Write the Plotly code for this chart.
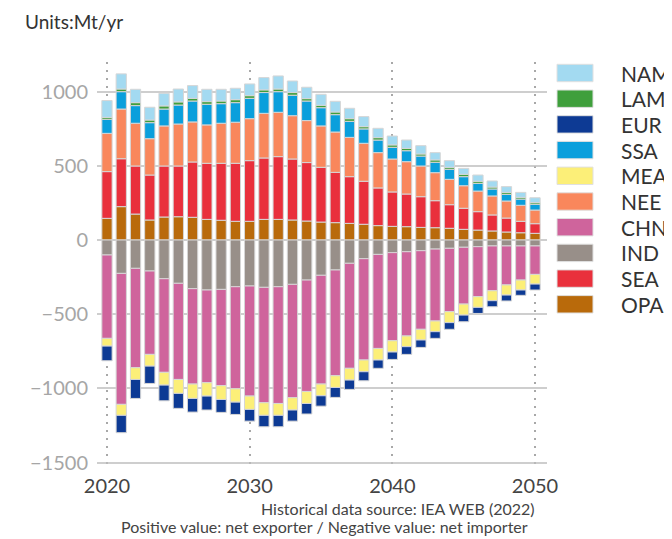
import plotly.graph_objects as go

years = list(range(2020, 2051))

OPA = [146, 225, 175, 135, 155, 157, 153, 139, 133, 126, 126, 139, 139, 135, 128, 121, 117, 112, 106, 97, 92, 90, 85, 83, 79, 72, 67, 61, 54, 49, 45]
SEA = [315, 323, 324, 303, 344, 342, 373, 378, 384, 391, 409, 414, 423, 411, 394, 369, 339, 315, 290, 254, 232, 220, 207, 182, 159, 142, 124, 108, 94, 77, 65]
NEE = [258, 335, 288, 245, 270, 283, 270, 259, 270, 277, 283, 301, 299, 292, 283, 279, 272, 265, 256, 238, 222, 218, 207, 189, 171, 152, 139, 128, 115, 108, 92]
SSA = [95, 117, 119, 108, 114, 128, 141, 139, 132, 132, 137, 140, 139, 138, 132, 123, 117, 108, 97, 85, 79, 74, 67, 70, 68, 61, 52, 47, 45, 42, 39]
LAM = [13, 18, 20, 18, 21, 21, 18, 18, 18, 20, 18, 18, 18, 18, 16, 16, 18, 18, 15, 16, 16, 16, 14, 16, 13, 16, 14, 13, 13, 12, 11]
NAM = [113, 102, 90, 86, 85, 87, 86, 83, 79, 77, 79, 83, 88, 78, 77, 74, 72, 70, 68, 63, 60, 56, 56, 49, 45, 40, 42, 41, 39, 33, 33]
IND = [-101, -225, -191, -209, -261, -292, -328, -337, -333, -315, -310, -319, -315, -299, -270, -238, -202, -157, -126, -97, -85, -79, -72, -61, -56, -49, -45, -40, -40, -40, -40]
CHN = [-562, -883, -670, -562, -631, -648, -643, -625, -649, -688, -742, -778, -787, -764, -751, -733, -713, -708, -683, -634, -594, -568, -530, -485, -427, -383, -337, -302, -263, -230, -192]
MEA = [-52, -74, -79, -79, -86, -94, -97, -90, -93, -90, -90, -85, -80, -83, -81, -79, -79, -79, -79, -78, -76, -72, -72, -72, -74, -74, -72, -67, -68, -67, -65]
EUR = [-99, -117, -128, -117, -106, -101, -92, -94, -87, -83, -79, -77, -77, -75, -71, -70, -67, -63, -61, -56, -50, -52, -50, -45, -45, -45, -41, -41, -40, -36, -40]

x_ticks = [2020, 2030, 2040, 2050]
y_ticks = [1000, 500, 0, -500, -1000, -1500]
y_tick_text = ["1000", "500", "0", "\u2212500", "\u22121000", "\u22121500"]

colors = {
    "NAM": "#a3daf1", "LAM": "#3f9f3c", "EUR": "#0d3a94", "SSA": "#0a9fdc",
    "MEA": "#fcef78", "NEE": "#f9875c", "CHN": "#cf649c", "IND": "#988f89",
    "SEA": "#e9303c", "OPA": "#b96a0b",
}
series = {"OPA": OPA, "SEA": SEA, "IND": IND, "CHN": CHN, "NEE": NEE,
          "MEA": MEA, "SSA": SSA, "EUR": EUR, "LAM": LAM, "NAM": NAM}
legend_order = ["NAM", "LAM", "EUR", "SSA", "MEA", "NEE", "CHN", "IND", "SEA", "OPA"]

FONT = "Lato, 'Noto Sans', sans-serif"

fig = go.Figure()
for name, vals in series.items():
    fig.add_trace(go.Bar(
        x=years, y=vals, name=name, showlegend=False,
        marker=dict(color=colors[name], line=dict(color="#d6d6d6", width=1)),
    ))

# page offset of the plot div (body margin)
OFF = 8
W, H = 672 - OFF, 539 - OFF
# plot area in screen pixels
L, R, T, B = 97, 547, 62, 464
pw, ph = R - L, B - T

def px_x(x):
    return (x - L) / pw

def px_y(y):
    return (B - y) / ph

shapes = []
annotations = []
for i, name in enumerate(legend_order):
    yc = 73 + 25.7 * i
    shapes.append(dict(type="rect", xref="paper", yref="paper",
                       x0=px_x(557), x1=px_x(593), y0=px_y(yc + 8.7), y1=px_y(yc - 8.7),
                       fillcolor=colors[name], line=dict(color="#e0e0e0", width=1)))
    annotations.append(dict(xref="paper", yref="paper", x=px_x(619), y=px_y(yc),
                            xanchor="left", yanchor="middle", showarrow=False,
                            text=name, font=dict(family=FONT, size=21, color="#333333")))

annotations.append(dict(xref="paper", yref="paper", x=px_x(259), y=px_y(508),
                        xanchor="left", yanchor="middle", showarrow=False,
                        text="Historical data source: IEA WEB (2022)",
                        font=dict(family=FONT, size=16, color="#444444")))
annotations.append(dict(xref="paper", yref="paper", x=px_x(119), y=px_y(526),
                        xanchor="left", yanchor="middle", showarrow=False,
                        text="Positive value: net exporter / Negative value: net importer",
                        font=dict(family=FONT, size=16, color="#444444")))

fig.update_layout(
    width=W, height=H,
    margin=dict(l=L - OFF, r=W - (R - OFF), t=T - OFF, b=H - (B - OFF)),
    barmode="relative", bargap=0.28,
    plot_bgcolor="white", paper_bgcolor="white",
    title=dict(text="Units:Mt/yr", xref="container", yref="container",
               x=(25 - OFF) / W, y=1 - (22 - OFF) / H, xanchor="left", yanchor="middle",
               font=dict(family=FONT, size=19, color="#333333")),
    shapes=shapes, annotations=annotations,
    xaxis=dict(range=[2019.30, 2050.84], tickvals=x_ticks, showgrid=True,
               gridcolor="#a8a8a8", gridwidth=2, griddash="2px,6px",
               zeroline=False, showline=False, ticks="", layer="above traces",
               ticklabelstandoff=8,
               tickfont=dict(family=FONT, size=20, color="#444444")),
    yaxis=dict(range=[-1510, 1200], tickvals=y_ticks, ticktext=y_tick_text,
               showgrid=True, gridcolor="rgba(190,190,190,0.75)", gridwidth=2,
               zeroline=False, showline=False, ticks="", layer="above traces",
               ticklabelstandoff=8,
               tickfont=dict(family=FONT, size=20, color="#a6a6a6")),
)

fig.write_html("out.html")
